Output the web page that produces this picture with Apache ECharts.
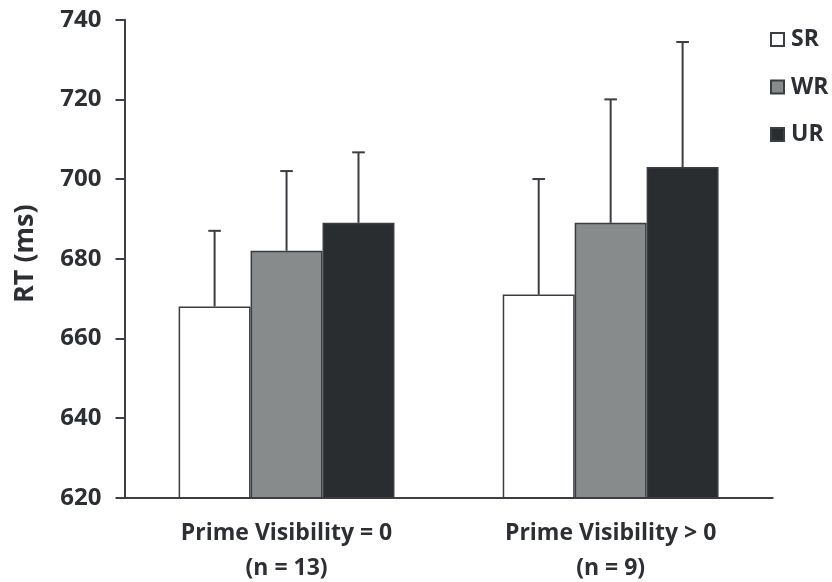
<!DOCTYPE html>
<html>
<head>
<meta charset="utf-8">
<script src="https://cdn.jsdelivr.net/npm/echarts@6/dist/echarts.min.js"></script>
<style>
  html, body { margin: 0; padding: 0; background: #fff; }
  #chart { width: 832px; height: 582px; }
</style>
</head>
<body>
<div id="chart"></div>
<script>
// Reaction times by prime visibility group and relation condition
const groups = ['Prime Visibility = 0\n(n = 13)', 'Prime Visibility > 0\n(n = 9)'];
const conditions = ['SR', 'WR', 'UR'];
const meanSR = [668, 671];
const meanWR = [682, 689];
const meanUR = [689, 703];
// upper end of each error bar (mean + error)
const upperSR = [687, 700];
const upperWR = [702, 720];
const upperUR = [706.7, 734.4];
const yTicks = { min: 620, max: 740, step: 20 };

const ink = '#2c2f33';
const fills = ['#ffffff', '#878b8b', '#2a2d30'];
const means = [meanSR, meanWR, meanUR];
const uppers = [upperSR, upperWR, upperUR];
const catGap = 0.334;
const font = '"Open Sans", sans-serif';

// one record per error bar: [groupIndex, conditionIndex, mean, upper]
const errData = [];
for (let s = 0; s < conditions.length; s++) {
  for (let g = 0; g < groups.length; g++) {
    errData.push([g, s, means[s][g], uppers[s][g]]);
  }
}

const barSeries = conditions.map((name, i) => ({
  name: name,
  type: 'bar',
  data: means[i],
  barGap: '0%',
  barCategoryGap: (catGap * 100) + '%',
  itemStyle: { color: fills[i], borderColor: '#3a3d42', borderWidth: 1.5 },
  emphasis: { disabled: true },
  z: 2
}));

const errorSeries = {
  type: 'custom',
  data: errData,
  z: 3,
  silent: true,
  renderItem: function (params, api) {
    const g = api.value(0), s = api.value(1);
    const band = api.size([1, 0])[0];
    const bw = band * (1 - catGap) / conditions.length;
    const base = api.coord([g, api.value(2)]);
    const top = api.coord([g, api.value(3)]);
    const x = base[0] + (s - 1) * bw;
    const half = 6.3;
    const style = { stroke: '#3a3d42', lineWidth: 2 };
    return {
      type: 'group',
      children: [
        { type: 'line', shape: { x1: x, y1: base[1], x2: x, y2: top[1] }, style: style },
        { type: 'line', shape: { x1: x - half, y1: top[1], x2: x + half, y2: top[1] }, style: style }
      ]
    };
  }
};

const chart = echarts.init(document.getElementById('chart'), null, { renderer: 'canvas' });
chart.setOption({
  animation: false,
  backgroundColor: '#ffffff',
  textStyle: { fontFamily: font, color: ink },
  grid: {
    left: 124.5, right: 59.3, top: 19.7, bottom: 84.3,
    containLabel: false,
    outerBoundsMode: 'none'
  },
  legend: {
    data: conditions,
    orient: 'vertical',
    left: 770,
    top: 28,
    padding: 0,
    icon: 'rect',
    itemWidth: 13,
    itemHeight: 13,
    itemGap: 24.5,
    selectedMode: false,
    textStyle: { fontFamily: font, fontWeight: 'bold', fontSize: 23, color: ink, padding: [0, 0, 0, 2] }
  },
  xAxis: {
    type: 'category',
    data: groups,
    axisLine: { show: true, lineStyle: { color: '#3c3f44', width: 2 } },
    axisTick: { show: false },
    axisLabel: {
      margin: 18,
      fontFamily: font,
      fontWeight: 'bold',
      fontSize: 23,
      lineHeight: 35,
      color: ink
    }
  },
  yAxis: {
    type: 'value',
    min: yTicks.min,
    max: yTicks.max,
    interval: yTicks.step,
    name: 'RT (ms)',
    nameLocation: 'middle',
    nameGap: 86,
    nameRotate: 90,
    nameTextStyle: { fontFamily: font, fontWeight: 'bold', fontSize: 27, color: ink, padding: [0, 0, 0, 10] },
    axisLine: { show: true, lineStyle: { color: '#3c3f44', width: 2 } },
    axisTick: { show: true, inside: false, length: 9, lineStyle: { color: '#3c3f44', width: 2 } },
    splitLine: { show: false },
    axisLabel: {
      margin: 23,
      fontFamily: font,
      fontWeight: 'bold',
      fontSize: 24,
      color: ink
    }
  },
  series: barSeries.concat([errorSeries])
});
</script>
</body>
</html>
